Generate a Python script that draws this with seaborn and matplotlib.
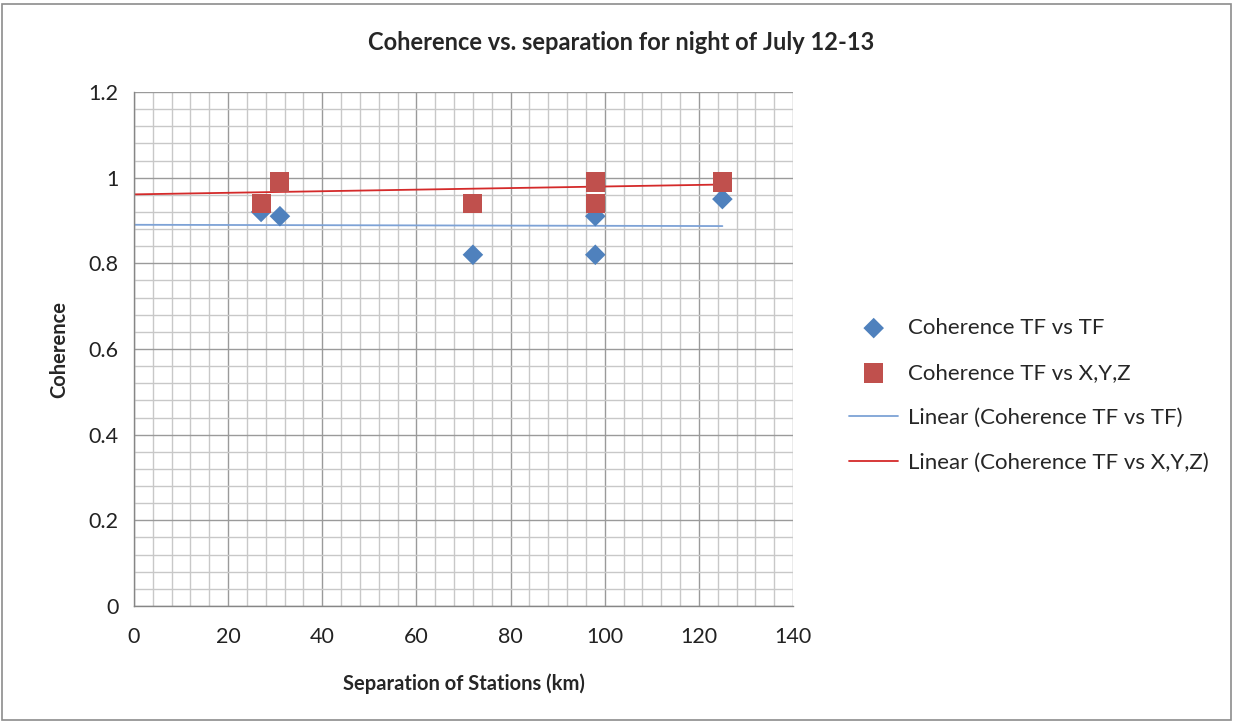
import numpy as np
import matplotlib
matplotlib.use("Agg")
import matplotlib.pyplot as plt
from matplotlib.patches import Rectangle
from matplotlib.ticker import MultipleLocator, FuncFormatter
import seaborn as sns

# separation of stations (km)
separation = [27, 31, 72, 98, 98, 125]
# coherence values
coh_tf = [0.92, 0.91, 0.82, 0.91, 0.82, 0.95]
coh_xyz = [0.94, 0.99, 0.94, 0.99, 0.94, 0.99]

# trendline endpoints as drawn in the chart
trend_x = [0, 125]
trend_tf = [0.890, 0.887]
trend_xyz = [0.961, 0.984]

x_ticks = [0, 20, 40, 60, 80, 100, 120, 140]
y_ticks = [0, 0.2, 0.4, 0.6, 0.8, 1.0, 1.2]

blue = "#4F81BD"
red = "#C0504D"

sns.set_theme(style="white")
plt.rcParams["font.family"] = ["Lato", "DejaVu Sans"]

fig = plt.figure(figsize=(12.35, 7.23), dpi=100)
ax = fig.add_axes([134 / 1235, 1 - 606 / 723, (793 - 134) / 1235, (606 - 92) / 723])

# trend lines first so markers sit on top
sns.lineplot(x=trend_x, y=trend_tf, color="#7DA2D6", linewidth=1.3, ax=ax,
             label="Linear (Coherence TF vs TF)", zorder=2)
sns.lineplot(x=trend_x, y=trend_xyz, color="#D42A2A", linewidth=1.3, ax=ax,
             label="Linear (Coherence TF vs X,Y,Z)", zorder=2)
sns.scatterplot(x=separation, y=coh_tf, marker="D", s=110, color=blue,
                edgecolor="none", ax=ax, label="Coherence TF vs TF", zorder=3)
sns.scatterplot(x=separation, y=coh_xyz, marker="s", s=190, color=red,
                edgecolor="none", ax=ax, label="Coherence TF vs X,Y,Z", zorder=4)

ax.set_xlim(0, 140)
ax.set_ylim(0, 1.2)
ax.set_xticks(x_ticks)
ax.set_yticks(y_ticks)
ax.xaxis.set_minor_locator(MultipleLocator(4))
ax.yaxis.set_minor_locator(MultipleLocator(0.04))
ax.yaxis.set_major_formatter(FuncFormatter(lambda v, p: f"{v:g}"))

ax.grid(which="major", color="#9A9A9A", linewidth=1.0)
ax.grid(which="minor", color="#C8C8C8", linewidth=1.0)
ax.set_axisbelow(True)

for side in ["top", "right"]:
    ax.spines[side].set_visible(False)
for side in ["left", "bottom"]:
    ax.spines[side].set_color("#868686")
    ax.spines[side].set_linewidth(1.0)

ax.tick_params(axis="both", which="major", labelsize=15.5, colors="#222222",
               length=0, pad=11)
ax.tick_params(axis="x", which="major", pad=15)
ax.tick_params(axis="both", which="minor", length=0)

ax.set_xlabel("Separation of Stations (km)", fontsize=14.5, fontweight="bold", labelpad=19)
ax.set_ylabel("Coherence", fontsize=14.5, fontweight="bold", labelpad=14)
fig.suptitle("Coherence vs. separation for night of July 12-13", fontsize=17,
             fontweight="bold", x=0.503, y=1 - 42 / 723, va="center")

handles, labels = ax.get_legend_handles_labels()
order = [2, 3, 0, 1]
ax.legend([handles[i] for i in order], [labels[i] for i in order],
          loc="center left", bbox_to_anchor=(1.055, 0.41), frameon=False,
          fontsize=16, labelspacing=1.12, handlelength=2.2, handletextpad=0.45)

fig.patches.append(Rectangle((0.002, 0.004), 0.995, 0.99, transform=fig.transFigure,
                             fill=False, edgecolor="#8C8C8C", linewidth=1.2))

fig.savefig("out.png", dpi=100)
